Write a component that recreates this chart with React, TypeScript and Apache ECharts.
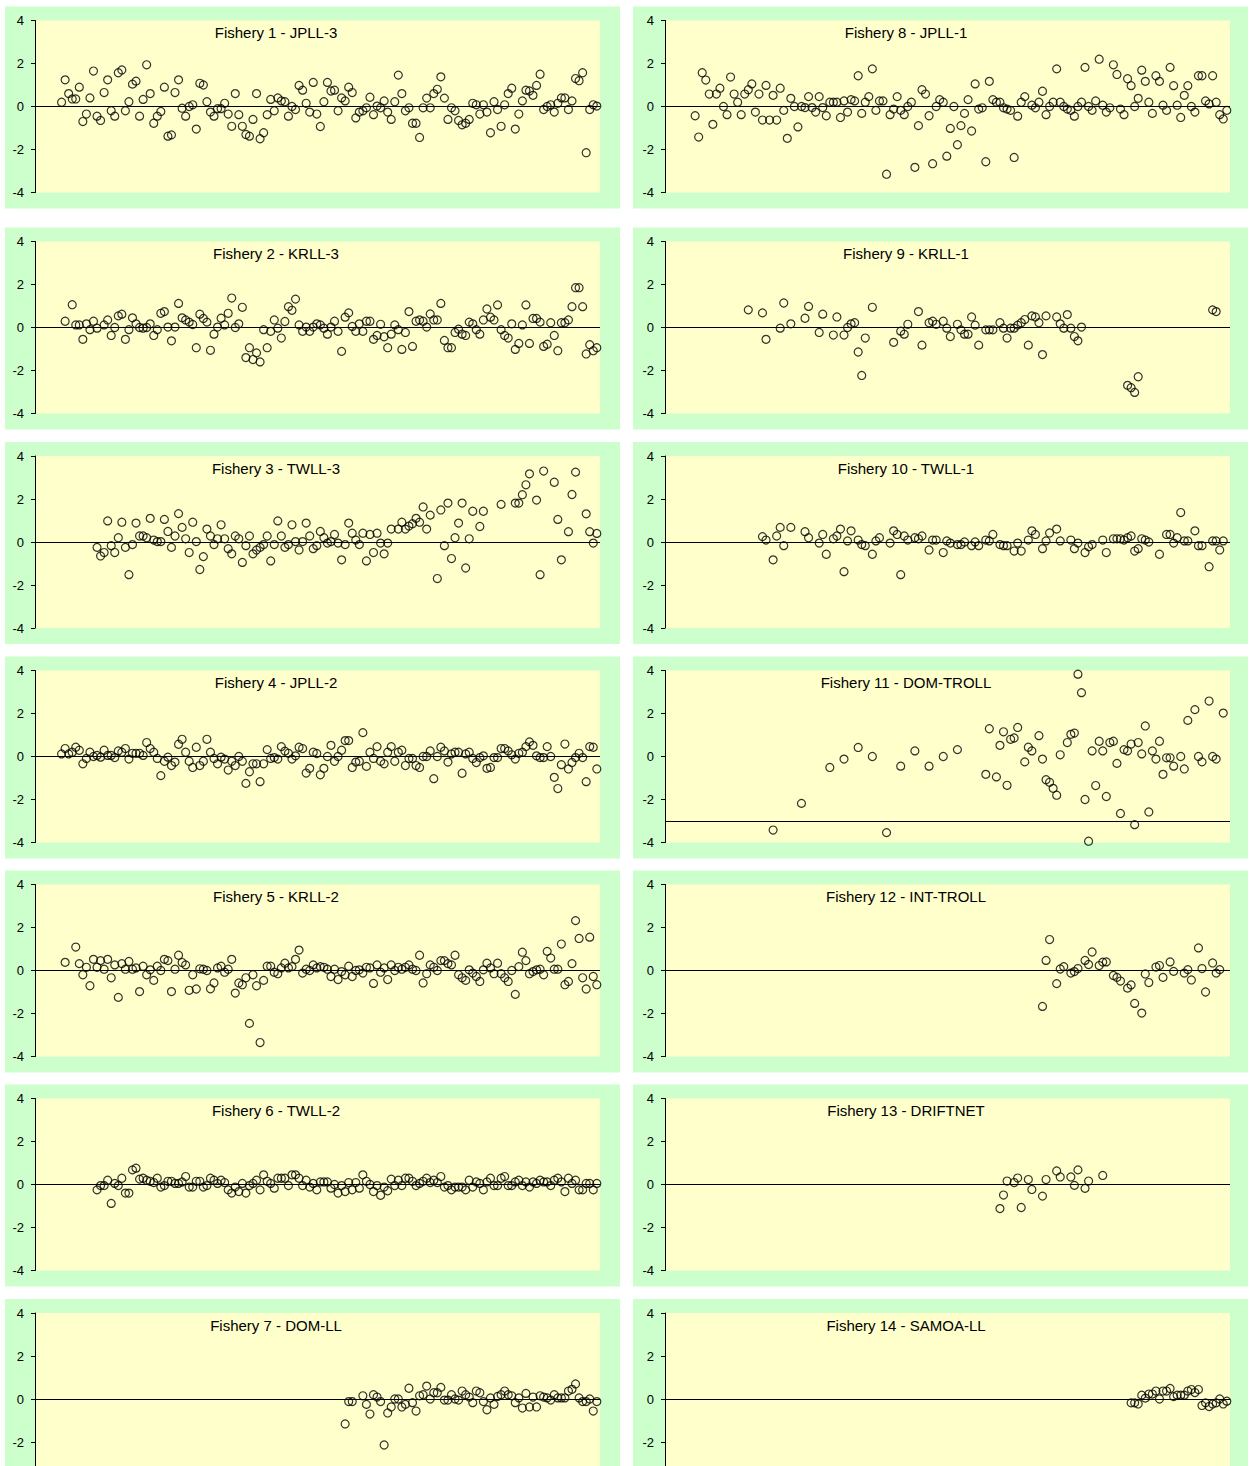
import React, { useEffect, useRef } from "react";
import * as echarts from "echarts";

// ---------- data ----------
const titles = [
  "Fishery 1 - JPLL-3", "Fishery 2 - KRLL-3", "Fishery 3 - TWLL-3", "Fishery 4 - JPLL-2",
  "Fishery 5 - KRLL-2", "Fishery 6 - TWLL-2", "Fishery 7 - DOM-LL", "Fishery 8 - JPLL-1",
  "Fishery 9 - KRLL-1", "Fishery 10 - TWLL-1", "Fishery 11 - DOM-TROLL", "Fishery 12 - INT-TROLL",
  "Fishery 13 - DRIFTNET", "Fishery 14 - SAMOA-LL",
];
const yTicks = [-4, -2, 0, 2, 4];
const baseYear = 1960; // quarter index 0 = first quarter of 1960
const lastYear = 1999.85;
const crossValues = [0, 0, 0, 0, 0, 0, 0, 0, 0, 0, -3, 0, 0, 0];

// dense series: first quarter index + consecutive quarterly residuals (null = no data)
const f1Start = 7;
const f1Values = [
  0.2, 1.24, 0.6, 0.35, 0.35, 0.9, -0.7, -0.35, 0.4, 1.65, -0.45, -0.65, 0.65, 1.24, -0.2, -0.45, 1.57, 1.7, -0.2, 0.22,
  1.04, 1.18, -0.45, 0.33, 1.94, 0.6, -0.78, -0.45, -0.23, 0.9, -1.38, -1.32, 0.65, 1.24, -0.08, -0.45, 0, 0.08, -1.05, 1.08,
  1.0, 0.22, -0.26, -0.45, -0.1, -0.1, 0.15, -0.35, -0.92, 0.6, -0.38, -0.92, -1.3, -1.38, -0.6, 0.6, -1.5, -1.22, -0.38, 0.33,
  -0.2, 0.4, 0.26, 0.22, -0.45, 0, -0.14, 0.98, 0.76, 0.15, -0.26, 1.12, -0.35, -0.93, 0.22, 1.12, 0.72, 0.76, -0.2, 0.4,
  0.26, 0.9, 0.65, -0.53, -0.26, -0.2, -0.06, 0.43, -0.38, 0.02, -0.06, 0.26, -0.26, -0.6, 0.22, 1.46, 0.6, -0.2, -0.06, -0.78,
  -0.78, -1.44, -0.06, 0.39, -0.06, 0.6, 0.8, 1.38, 0.39, -0.6, -0.06, -0.2, -0.65, -0.85, -0.78, -0.6, 0.15, 0.08, -0.35, 0.08,
  -0.26, -1.22, 0.22, -0.14, -0.92, 0.08, 0.6, 0.85, -1.05, -0.35, 0.26, 0.76, 0.72, 0.52, 0.98, 1.5, -0.14, 0, 0.08, -0.26,
  0.15, 0.4, 0.4, -0.14, 0.26, 1.3, 1.2, 1.57, -2.15, -0.14, 0.08, 0.02,
];
const f2Start = 8;
const f2Values = [
  0.29, null, 1.06, 0.12, 0.12, -0.55, 0.17, -0.1, 0.29, -0.03, null,
  0.12, 0.35, -0.37, 0, 0.54, 0.62, -0.55, -0.1, 0.45, 0.17,
  0, -0.03, 0, 0.17, -0.37, -0.1, 0.66, 0.74, 0.02, -0.62,
  0.02, 1.12, 0.45, 0.35, 0.25, 0.14, -0.94, 0.62, 0.42, 0.25,
  -1.06, -0.31, 0.02, 0.43, 0.12, 0.66, 1.37, 0, 0.17, 0.94,
  -1.4, -0.94, -1.49, -1.18, -1.6, -0.1, -0.94, -0.18, 0.35, -0.03,
  -0.49, 0.28, 0.97, 0.8, 1.32, 0.12, -0.18, 0.02, -0.18, 0.02,
  0.17, 0.12, -0.03, -0.31, 0.02, 0.29, -0.18, -1.11, 0.48, 0.68,
  0.05, -0.18, 0.17, -0.18, 0.29, 0.29, -0.55, -0.37, 0.15, -0.43,
  -0.94, -0.31, 0.12, -0.1, -1.02, -0.23, 0.74, -0.88, 0.29, 0.35,
  0.29, 0.02, 0.63, 0.35, 0.35, 1.12, -0.6, -0.94, -0.94, -0.23,
  -0.08, -0.31, -0.37, 0.25, 0.17, -0.1, -0.31, 0.35, 0.86, 0.48,
  0.35, 1.05, -0.1, -0.37, -0.49, 0.17, -1.02, -0.74, 0.12, 1.05,
  -0.74, 0.42, 0.42, 0.25, -0.88, -0.78, 0.22, -0.37, -1.08, 0.22,
  0.22, 0.35, 0.97, 1.85, 1.85, 0.97, -1.23, -0.8, -1.08, -0.94,
];
const f3Start = 17;
const f3Values = [
  -0.25, -0.65, -0.49, 0.98, -0.17, -0.49, 0.2, 0.92, -0.25, -1.52,
  -0.12, 0.88, 0.28, 0.28, 0.2, 1.1, 0.09, 0.02, 0.02, 1.05,
  0.49, -0.25, 0.28, 1.32, 0.68, 0.15, -0.49, 0.92, 0.02, -1.28,
  -0.68, 0.6, 0.28, -0.12, 0.15, 0.8, 0.15, -0.31, -0.55, 0.28,
  0.15, -0.95, -0.17, 0.28, -0.55, -0.37, -0.25, -0.12, 0.28, -0.88,
  -0.12, 0.98, 0.28, -0.25, -0.12, 0.8, 0.02, -0.37, 0.02, 0.88,
  0.28, -0.31, -0.17, 0.49, 0.2, -0.05, 0.02, 0.35, -0.05, -0.83,
  -0.12, 0.88, 0.41, 0.09, -0.12, 0.41, -0.88, 0.35, -0.49, 0.41,
  -0.05, -0.55, -0.05,
  0.6, null, 0.6, 0.92, 0.6, 0.74, 0.85, 1.1, 0.92, 1.63, 0.6, 1.25, null, -1.7, 1.49, -0.17, 1.81, -0.77, 0.2, 0.88,
  1.81, -1.21, 0.15, 1.43, null, 0.72, 1.43, null, null, null, null, 1.75, null, null, null, 1.81, 1.81, 2.2, 2.66, 3.17,
  null, 1.95, -1.52, 3.3, null, null, 2.78, 1.05, -0.83, null, 0.48, 2.21, 3.25, null, null, 1.31, 0.48, -0.05, 0.4,
];
const f4Start = 7;
const f4Values = [
  0.12, 0.37, 0.12, 0.2, 0.43, 0.29, -0.34, -0.09, 0.2, 0,
  0.05, -0.03, 0.29, 0.05, 0.05, -0.05, 0.26, 0.2, 0.37, -0.12,
  0.15, 0.15, 0.15, 0.05, 0.65, 0.37, 0.2, -0.09, -0.89, -0.22,
  -0.03, -0.42, -0.26, 0.57, 0.8, 0.2, -0.22, -0.51, 0.43, -0.42,
  -0.22, 0.8, 0.2, -0.09, -0.34, -0.03, -0.12, -0.63, -0.22, -0.42,
  0, -0.22, -1.25, -0.71, -0.34, -0.34, -1.17, -0.34, 0.32, -0.09,
  -0.05, -0.12, 0.46, 0.25, 0.15, -0.12, 0.03, 0.43, 0.37, -0.77,
  -0.55, 0.2, 0.14, -0.85, -0.55, 0, 0.52, -0.22, 0, 0.29,
  0.74, 0.74, -0.51, -0.26, -0.22, 1.11, -0.46, 0.2, -0.09, 0.46,
  -0.22, -0.34, 0.2, 0.46, -0.22, 0.2, 0.29, -0.42, -0.09, -0.09,
  -0.42, -0.51, 0, 0, 0.26, -1.03, 0, 0.43, 0.26, -0.26,
  0.12, 0.2, 0.2, -0.78, 0.12, 0.2, -0.09, -0.28, -0.05, 0.03,
  -0.55, -0.51, -0.05, -0.05, 0.37, 0.37, 0.26, 0.08, -0.12, 0.15,
  0.2, 0.46, 0.68, 0.52, 0.03, -0.05, -0.05, 0.46, 0, -0.97,
  -1.49, -0.38, 0.58, -0.58, -0.28, -0.05, 0.15, -0.05, -1.17, 0.46,
  0.43, -0.58,
];
const f5Start = 8;
const f5Values = [
  0.38, null, null, 1.09, 0.32,
  -0.2, 0.15, -0.71, 0.52, 0.15, 0.46, 0.06, 0.52, -0.34, 0.26,
  -1.25, 0.32, 0.06, 0.42, 0.06, 0.12, -0.98, 0.2, -0.2, 0.03,
  -0.46, 0.2, 0, 0.52, 0.46, -0.98, 0.06, 0.71, 0.37, 0.26,
  -0.92, -0.2, -0.86, 0.08, 0.06, 0, -0.85, -0.58, 0.12, 0.2,
  -0.08, 0.06, 0.52, -1.05, -0.58, -0.66, -0.34, -2.46, -0.2, -0.71,
  -3.35, -0.46, 0.2, 0.2, -0.08, -0.15, 0.12, 0.34, 0.12, 0.18,
  0.52, 0.95, -0.12, 0.06, 0, 0.26, 0.12, 0.18, 0.15, 0.06,
  -0.28, 0.06, -0.42, -0.05, -0.2, 0.2, -0.28, 0, 0.03, -0.12,
  0.15, 0.12, -0.6, 0.26, -0.08, 0.12, -0.42, 0.26, 0, 0.15,
  0.06, 0.15, 0.26, 0.06, 0, 0.71, -0.58, -0.15, 0.26, 0.15,
  0, 0.46, 0.46, 0.32, 0.26, 0.71, -0.2, -0.34, -0.46, 0.03,
  -0.12, -0.28, -0.51, 0.03, 0.34, 0.12, -0.15, 0.34, -0.15, -0.34,
  -0.51, 0, -1.11, 0.18, 0.85, 0.46, -0.15, -0.05, 0.03, 0.06,
  -0.2, 0.89, 0.58, 0.06, 0.06, 1.23, -0.66, -0.51, 0.32, 2.32,
  1.49, -0.34, -0.86, 1.55, -0.28, -0.66,
];
const f6Start = 17;
const f6Values = [
  -0.25, -0.05, -0.05, 0.2, -0.88, 0.05, -0.05, 0.29, -0.4, -0.4,
  0.68, 0.76, 0.25, 0.29, 0.2, 0.15, 0.09, 0.29, -0.12, -0.05,
  0.15, 0.15, 0.05, 0.05, 0.12, 0.37, -0.12, -0.12, 0.15, 0.15,
  -0.12, -0.05, 0.29, 0.2, 0.05, 0.2, 0.09, -0.25, -0.4, -0.12,
  -0.33, 0.05, -0.4, -0.05, 0.05, 0.2, -0.25, 0.45, 0.15, 0.05,
  -0.17, 0.29, 0.29, 0.29, -0.05, 0.45, 0.45, 0.29, -0.05, 0.2,
  -0.12, 0.05, -0.25, 0.12, 0.12, 0.12, -0.17, 0, -0.4, -0.05,
  -0.33, 0.09, -0.25, 0.09, -0.17, 0.45, 0.15, 0, -0.33, -0.05,
  -0.5, -0.12, -0.29, 0.25, -0.05, 0.2, -0.05, 0.29, 0.29, 0.15,
  -0.05, 0.05, 0.15, 0.29, 0.09, 0.2, 0.09, 0.37, -0.12, -0.05,
  -0.25, -0.12, -0.12, -0.12, -0.25, 0.2, -0.12, 0.12, 0.05, -0.25,
  0.12, 0.29, -0.05, -0.05, 0.29, 0.37, -0.05, -0.05, 0.12, 0.2,
  -0.05, 0.12, -0.12, 0.12, 0.05, 0.2, 0.12, 0.12, -0.05, 0.2,
  0.29, 0.12, -0.33, 0.29, 0.05, 0.2, -0.25, -0.25, 0.05, 0.05,
  -0.25, 0.05,
];
const f7Start = 87;
const f7Values = [
  -1.16, -0.12, -0.12, null, null,
  0.15, -0.25, -0.7, 0.2, 0.09, -0.12, -2.14, -0.65, -0.37, 0,
  0, -0.37, -0.25, 0.5, -0.17, -0.56, 0.15, 0.2, 0.6, 0,
  0.29, 0.29, 0.54, -0.05, -0.05, 0.2, 0, -0.05, 0.37, 0.2,
  0.09, -0.17, 0.37, 0.29, -0.12, -0.5, 0.05, -0.25, 0.12, 0.2,
  0.37, 0.2, 0.15, -0.17, 0.05, -0.42, 0.26, -0.37, 0.09, -0.37,
  0.15, 0.09, 0.05, -0.05, 0.2, 0.05, 0.05, 0.05, 0.37, 0.45,
  0.7, 0.05, -0.12, -0.12, 0, -0.56, -0.12,
];
const f8Start = 8;
const f8Values = [
  -0.43, -1.42, 1.57, 1.23, 0.58, -0.83, 0.58, 0.85, 0, -0.38,
  1.37, 0.58, 0.2, -0.38, 0.58, 0.78, 1.05, -0.26, 0.58, -0.63,
  0.98, -0.63, 0.52, -0.63, 0.85, -0.18, -1.48, 0.38, 0, -0.95,
  0, -0.05, 0.46, -0.05, -0.26, 0.46, -0.05, -0.43, 0.2, 0.2,
  0.2, -0.51, 0.26, -0.26, 0.32, 0.26, 1.43, -0.32, 0.2, 0.46,
  1.75, -0.18, 0.26, 0.26, -3.15, -0.38, -0.12, 0.46, -0.18, -0.38,
  0, 0.2, -2.83, -0.89, 0.78, 0.58, -0.43, -2.66, 0, 0.32,
  0.2, -2.31, -1.02, 0, -1.78, -0.89, -0.32, 0.32, -1.14, 1.05,
  -0.12, -0.06, -2.57, 1.17, 0.32, 0.2, 0.2, -0.06, -0.12, -0.18,
  -2.37, -0.45, 0.2, 0.46, null,
  0.06, -0.06, 0.2, 0.71, -0.38, 0, 0.2, 1.75, 0.2, 0,
  -0.12, -0.18, -0.45, 0, 0.2, 1.82, 0, -0.18, 0.26, 2.2,
  0.06, -0.26, -0.06, 1.94, 1.49, -0.12, -0.38, 1.29, 0.97, 0,
  0.38, 1.69, 1.17, 0.2, -0.32, 1.43, 1.17, 0.06, -0.18, 1.82,
  0.97, 0.06, -0.51, 0.52, 0.97, 0, -0.26, 1.43, 1.43, 0.26,
  0.12, 1.43, 0.2, -0.38, -0.58, -0.18,
];
// sparse series: quarter indices + residuals
const f9Quarters = [
  23, 27, 28, 32, 33, 35, 39, 40, 43, 44, 47, 48, 50, 51, 52, 53, 54, 55, 56, 58,
  64, 66, 67, 68, 71, 72, 74, 75, 76, 78, 79, 80, 82, 83, 84, 85, 86, 87, 88, 90,
  91, 92, 94, 95, 96, 97, 98, 99, 100, 101, 102, 103, 104, 105, 106, 107, 110, 111, 112, 113,
  114, 115, 116, 117, 130, 131, 132, 133, 154, 155,
];
const f9Values = [
  0.82, 0.68, -0.55, -0.03, 1.14, 0.17, 0.43, 0.98, -0.23, 0.62, -0.35, 0.49, -0.35, 0, 0.17, 0.22, -1.14, -2.23, -0.49, 0.94,
  -0.69, -0.17, -0.31, 0.15, 0.74, -0.82, 0.22, 0.29, 0.15, 0.29, -0.03, -0.42, 0.15, -0.11, -0.31, -0.31, 0.49, 0.11, -0.82, -0.11,
  -0.11, -0.11, 0.22, -0.03, -0.49, -0.03, -0.03, 0.11, 0.22, 0.37, -0.82, 0.54, 0.49, 0.22, -1.26, 0.54, 0.49, 0.17, -0.03, 0.6,
  -0.03, -0.42, -0.62, 0.02, -2.69, -2.8, -3.02, -2.29, 0.82, 0.74,
];
const f10Quarters = [
  27, 28, 30, 31, 32, 33, 35, 39, 40, 43, 44, 45, 47, 48, 49, 50, 51, 52, 54, 55,
  56, 58, 59, 60, 63, 64, 65, 66, 67, 68, 70, 71, 72, 74, 75, 76, 78, 79, 80, 82,
  83, 84, 86, 87, 88, 90, 91, 92, 94, 95, 96, 98, 99, 100, 102, 103, 104, 106, 107, 108,
  110, 111, 114, 115, 116, 118, 119, 120, 123, 124, 126, 127, 128, 129, 130, 131, 132, 133, 134, 135,
  136, 139, 141, 142, 143, 144, 145, 146, 147, 149, 150, 151, 153, 154, 155, 156, 157,
];
const f10Values = [
  0.25, 0.09, -0.83, 0.28, 0.68, -0.17, 0.68, 0.48, 0.2, -0.05,
  0.35, -0.57, 0.15, 0.28, 0.6, -1.38, 0.05, 0.52, 0.09, -0.12,
  -0.17, -0.57, 0.05, 0.2, -0.05, 0.52, 0.35, -1.52, 0.28, 0.09,
  0.2, 0.15, 0.28, -0.37, 0.09, 0.09, -0.49, 0.05, -0.05, -0.12,
  -0.12, 0, -0.17, 0, -0.17, 0.09, 0.05, 0.35, -0.12, -0.17,
  -0.17, -0.42, -0.05, -0.42, 0.09, 0.52, 0.35, -0.31, 0.05, 0.42,
  0.6, 0.05, 0.09, -0.31, -0.05, -0.49, -0.22, -0.12, 0.09, -0.49,
  0.15, 0.15, 0.15, 0.09, 0.2, 0.28, -0.42, -0.31, 0.15, 0.09,
  0, -0.57, 0.35, 0.35, -0.05, 0.2, 1.37, 0.05, 0.05, 0.52,
  -0.17, -0.17, -1.15, 0.05, 0.05, -0.37, 0.05,
];
const f11Quarters = [
  30, 38, 46, 50, 54, 58, 62, 66, 70, 74, 78, 82, 90, 91, 93, 94, 95, 96, 97, 98,
  99, 101, 102, 103, 105, 106, 107, 108, 109, 110, 111, 113, 114, 115, 116, 117, 118, 119, 120, 121,
  122, 123, 124, 125, 126, 127, 128, 129, 130, 131, 132, 133, 134, 135, 136, 137, 138, 139, 140, 141,
  142, 143, 145, 146, 147, 149, 150, 151, 153, 154, 155, 157,
];
const f11Values = [
  -3.42, -2.18, -0.51, -0.12, 0.42, 0, -3.54, -0.45, 0.26, -0.45, 0, 0.32, -0.83, 1.29, -0.95, 0.52, 1.15, -1.34, 0.8, 0.86,
  1.35, -0.25, 0.43, 0.26, 0.97, -0.12, -1.08, -1.2, -1.48, -1.8, 0.08, 0.65, 1.03, 1.09, 3.83, 2.97, -2.0, -3.94, 0.26, -1.35,
  0.71, 0.26, -1.86, 0.65, 0.71, -0.32, -2.65, 0.32, 0.26, 0.58, -3.17, 0.65, 0.12, 1.42, -2.58, 0.26, -0.12, 0.71, -0.83, -0.06,
  -0.06, -0.45, 0, -0.58, 1.68, 2.18, 0, -0.25, 2.58, 0, -0.12, 2.02,
];
const f12Quarters = [
  106, 107, 108, 110, 111, 112, 114, 115, 116, 118, 119, 120, 122, 123, 124, 126, 127, 128, 130, 131,
  132, 134, 135, 136, 138, 139, 140, 142, 143, 146, 147, 148, 150, 151, 152, 154, 155, 156,
];
const f12Values = [
  -1.67, 0.47, 1.44, -0.61, 0.07, 0.18, -0.12, -0.05, 0.09, 0.47, 0.28, 0.86, 0.23, 0.39, 0.4, -0.23, -0.32, -0.49, -0.82, -0.67,
  -1.53, -1.98, -0.16, -0.56, 0.16, 0.23, -0.32, 0.4, -0.04, -0.12, 0.04, -0.44, 1.05, 0.09, -1.0, 0.35, -0.12, 0.04,
];
const f13Quarters = [94, 95, 96, 98, 99, 100, 102, 103, 106, 107, 110, 111, 114, 115, 116, 118, 119, 123];
const f13Values = [-1.12, -0.49, 0.16, 0.09, 0.3, -1.07, 0.23, -0.23, -0.54, 0.23, 0.63, 0.35, 0.35, -0.04, 0.68, -0.18, 0.16, 0.42];
const f14Start = 131;
const f14Values = [
  -0.18, -0.18, -0.23, 0.18, 0.04, 0.23, 0.23, 0.37, 0, 0.37, 0.37, 0.49, 0.11, 0.18,
  0.18, 0.18, 0.37, 0.44, 0.3, 0.44, -0.3, -0.18, -0.35, -0.23, -0.18, 0, -0.23, -0.1,
];

// ---------- layout / style ----------
const PAGE_W = 1250;
const PAGE_H = 1466;
const CANVAS_H = 1520; // taller than the page so the bottom row is cut off, not squeezed
const COL_LEFT = [35, 665];
const COL_BOX_LEFT = [5, 633];
const ROW_ZERO = [106.5, 327.5, 542, 756.5, 970.5, 1184.5, 1399];
const PLOT_W = 565;
const PLOT_H = 172;
const GREEN = "#CCFFCC";
const YELLOW = "#FFFFCC";
const FONT = '"Liberation Sans", Arial, Helvetica, sans-serif';

const quarterToYear = (k: number) => baseYear + (k + 0.5) / 4;

function densePoints(start: number, values: (number | null)[]) {
  const out: number[][] = [];
  values.forEach((v, i) => {
    if (v !== null && v !== undefined) out.push([quarterToYear(start + i), v]);
  });
  return out;
}
function sparsePoints(quarters: number[], values: number[]) {
  return quarters.map((q, i) => [quarterToYear(q), values[i]]);
}

const panelData = [
  densePoints(f1Start, f1Values),
  densePoints(f2Start, f2Values),
  densePoints(f3Start, f3Values),
  densePoints(f4Start, f4Values),
  densePoints(f5Start, f5Values),
  densePoints(f6Start, f6Values),
  densePoints(f7Start, f7Values),
  densePoints(f8Start, f8Values),
  sparsePoints(f9Quarters, f9Values),
  sparsePoints(f10Quarters, f10Values),
  sparsePoints(f11Quarters, f11Values),
  sparsePoints(f12Quarters, f12Values),
  sparsePoints(f13Quarters, f13Values),
  densePoints(f14Start, f14Values),
];

export default function App() {
  const ref = useRef<HTMLDivElement>(null);
  useEffect(() => {
    if (!ref.current) return;
    const chart = echarts.init(ref.current, undefined, { renderer: "svg", width: PAGE_W, height: CANVAS_H });
    const grid: any[] = [];
    const xAxis: any[] = [];
    const yAxis: any[] = [];
    const series: any[] = [];
    const graphic: any[] = [];
    titles.forEach((title, i) => {
      const col = i < 7 ? 0 : 1;
      const row = i % 7;
      const left = COL_LEFT[col];
      const top = ROW_ZERO[row] - PLOT_H / 2;
      const lastRow = row === 6;
      grid.push({ left, top, width: PLOT_W, height: PLOT_H, show: true, backgroundColor: YELLOW, borderWidth: 0 });
      xAxis.push({ type: "value", gridIndex: i, min: baseYear, max: lastYear, show: false });
      yAxis.push({
        type: "value", gridIndex: i, min: yTicks[0], max: yTicks[yTicks.length - 1], interval: 2,
        axisLine: { show: true, onZero: false, lineStyle: { color: "#000", width: 1 } },
        axisTick: { show: true, length: 4, lineStyle: { color: "#000", width: 1 } },
        axisLabel: { color: "#000", fontSize: 13, fontFamily: FONT, margin: 11, showMinLabel: !lastRow },
        splitLine: { show: false },
      });
      series.push({
        type: "scatter", xAxisIndex: i, yAxisIndex: i, data: panelData[i],
        symbol: "circle", symbolSize: 8, silent: true,
        itemStyle: { color: "rgba(255,255,255,0)", borderColor: "#000", borderWidth: 1.2 },
        markLine: {
          silent: true, symbol: ["none", "none"], label: { show: false },
          lineStyle: { color: "#000", width: 1, type: "solid" },
          data: [{ yAxis: crossValues[i] }],
        },
      });
      graphic.push({
        type: "rect", z: -10, silent: true,
        shape: { x: COL_BOX_LEFT[col], y: top - 14, width: 615, height: PLOT_H + 30 },
        style: { fill: GREEN },
      });
      graphic.push({
        type: "text", z: 10, silent: true, x: left + 241, y: top + 12,
        style: { text: title, fill: "#000", font: `15px ${FONT}`, textAlign: "center", textVerticalAlign: "middle" },
      });
    });
    chart.setOption({ animation: false, grid, xAxis, yAxis, series, graphic });
    return () => chart.dispose();
  }, []);
  return (
    <div style={{ position: "absolute", left: 0, top: 0, width: PAGE_W, height: PAGE_H, overflow: "hidden" }}>
      <div ref={ref} style={{ width: PAGE_W, height: CANVAS_H }} />
    </div>
  );
}
